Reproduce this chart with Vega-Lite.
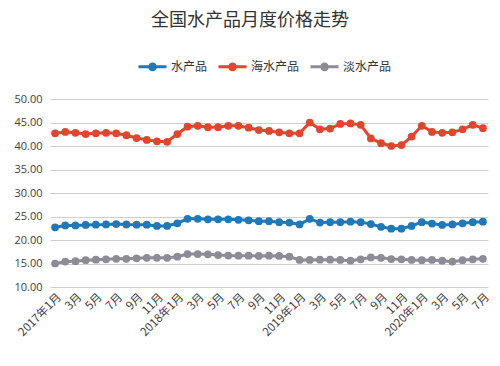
{
  "$schema": "https://vega.github.io/schema/vega-lite/v6.json",
  "width": 438,
  "height": 188,
  "autosize": {"type": "none"},
  "padding": {"left": 50, "top": 99, "right": 12, "bottom": 79},
  "background": "white",
  "title": {
    "text": "全国水产品月度价格走势",
    "font": "Noto Sans CJK SC",
    "fontSize": 18,
    "fontWeight": "normal",
    "color": "#333333",
    "anchor": "middle",
    "frame": "group",
    "dx": -19,
    "offset": 21
  },
  "config": {
    "view": {"stroke": null},
    "font": "Noto Sans CJK SC"
  },
  "data": {
    "values": [
      {"m":"2017-01","s":"水产品","p":22.7},{"m":"2017-02","s":"水产品","p":23.1},{"m":"2017-03","s":"水产品","p":23.1},{"m":"2017-04","s":"水产品","p":23.2},{"m":"2017-05","s":"水产品","p":23.25},{"m":"2017-06","s":"水产品","p":23.3},{"m":"2017-07","s":"水产品","p":23.4},{"m":"2017-08","s":"水产品","p":23.3},{"m":"2017-09","s":"水产品","p":23.25},{"m":"2017-10","s":"水产品","p":23.25},{"m":"2017-11","s":"水产品","p":23.0},{"m":"2017-12","s":"水产品","p":23.0},
      {"m":"2018-01","s":"水产品","p":23.55},{"m":"2018-02","s":"水产品","p":24.5},{"m":"2018-03","s":"水产品","p":24.5},{"m":"2018-04","s":"水产品","p":24.4},{"m":"2018-05","s":"水产品","p":24.4},{"m":"2018-06","s":"水产品","p":24.4},{"m":"2018-07","s":"水产品","p":24.3},{"m":"2018-08","s":"水产品","p":24.2},{"m":"2018-09","s":"水产品","p":24.0},{"m":"2018-10","s":"水产品","p":24.0},{"m":"2018-11","s":"水产品","p":23.8},{"m":"2018-12","s":"水产品","p":23.7},
      {"m":"2019-01","s":"水产品","p":23.3},{"m":"2019-02","s":"水产品","p":24.5},{"m":"2019-03","s":"水产品","p":23.7},{"m":"2019-04","s":"水产品","p":23.8},{"m":"2019-05","s":"水产品","p":23.8},{"m":"2019-06","s":"水产品","p":23.9},{"m":"2019-07","s":"水产品","p":23.8},{"m":"2019-08","s":"水产品","p":23.4},{"m":"2019-09","s":"水产品","p":22.8},{"m":"2019-10","s":"水产品","p":22.4},{"m":"2019-11","s":"水产品","p":22.4},{"m":"2019-12","s":"水产品","p":23.0},
      {"m":"2020-01","s":"水产品","p":23.8},{"m":"2020-02","s":"水产品","p":23.5},{"m":"2020-03","s":"水产品","p":23.2},{"m":"2020-04","s":"水产品","p":23.3},{"m":"2020-05","s":"水产品","p":23.55},{"m":"2020-06","s":"水产品","p":23.8},{"m":"2020-07","s":"水产品","p":23.9},
      {"m":"2017-01","s":"海水产品","p":42.7},{"m":"2017-02","s":"海水产品","p":43.0},{"m":"2017-03","s":"海水产品","p":42.8},{"m":"2017-04","s":"海水产品","p":42.55},{"m":"2017-05","s":"海水产品","p":42.7},{"m":"2017-06","s":"海水产品","p":42.8},{"m":"2017-07","s":"海水产品","p":42.7},{"m":"2017-08","s":"海水产品","p":42.3},{"m":"2017-09","s":"海水产品","p":41.7},{"m":"2017-10","s":"海水产品","p":41.3},{"m":"2017-11","s":"海水产品","p":41.0},{"m":"2017-12","s":"海水产品","p":40.9},
      {"m":"2018-01","s":"海水产品","p":42.55},{"m":"2018-02","s":"海水产品","p":44.1},{"m":"2018-03","s":"海水产品","p":44.3},{"m":"2018-04","s":"海水产品","p":44.0},{"m":"2018-05","s":"海水产品","p":44.0},{"m":"2018-06","s":"海水产品","p":44.3},{"m":"2018-07","s":"海水产品","p":44.3},{"m":"2018-08","s":"海水产品","p":43.9},{"m":"2018-09","s":"海水产品","p":43.4},{"m":"2018-10","s":"海水产品","p":43.2},{"m":"2018-11","s":"海水产品","p":42.9},{"m":"2018-12","s":"海水产品","p":42.7},
      {"m":"2019-01","s":"海水产品","p":42.7},{"m":"2019-02","s":"海水产品","p":45.0},{"m":"2019-03","s":"海水产品","p":43.55},{"m":"2019-04","s":"海水产品","p":43.7},{"m":"2019-05","s":"海水产品","p":44.7},{"m":"2019-06","s":"海水产品","p":44.8},{"m":"2019-07","s":"海水产品","p":44.5},{"m":"2019-08","s":"海水产品","p":41.6},{"m":"2019-09","s":"海水产品","p":40.6},{"m":"2019-10","s":"海水产品","p":40.0},{"m":"2019-11","s":"海水产品","p":40.2},{"m":"2019-12","s":"海水产品","p":42.0},
      {"m":"2020-01","s":"海水产品","p":44.3},{"m":"2020-02","s":"海水产品","p":43.0},{"m":"2020-03","s":"海水产品","p":42.8},{"m":"2020-04","s":"海水产品","p":42.9},{"m":"2020-05","s":"海水产品","p":43.55},{"m":"2020-06","s":"海水产品","p":44.5},{"m":"2020-07","s":"海水产品","p":43.8},
      {"m":"2017-01","s":"淡水产品","p":15.0},{"m":"2017-02","s":"淡水产品","p":15.4},{"m":"2017-03","s":"淡水产品","p":15.5},{"m":"2017-04","s":"淡水产品","p":15.7},{"m":"2017-05","s":"淡水产品","p":15.8},{"m":"2017-06","s":"淡水产品","p":15.9},{"m":"2017-07","s":"淡水产品","p":16.0},{"m":"2017-08","s":"淡水产品","p":16.0},{"m":"2017-09","s":"淡水产品","p":16.1},{"m":"2017-10","s":"淡水产品","p":16.2},{"m":"2017-11","s":"淡水产品","p":16.2},{"m":"2017-12","s":"淡水产品","p":16.2},
      {"m":"2018-01","s":"淡水产品","p":16.45},{"m":"2018-02","s":"淡水产品","p":17.0},{"m":"2018-03","s":"淡水产品","p":17.0},{"m":"2018-04","s":"淡水产品","p":16.95},{"m":"2018-05","s":"淡水产品","p":16.8},{"m":"2018-06","s":"淡水产品","p":16.7},{"m":"2018-07","s":"淡水产品","p":16.65},{"m":"2018-08","s":"淡水产品","p":16.65},{"m":"2018-09","s":"淡水产品","p":16.6},{"m":"2018-10","s":"淡水产品","p":16.65},{"m":"2018-11","s":"淡水产品","p":16.6},{"m":"2018-12","s":"淡水产品","p":16.45},
      {"m":"2019-01","s":"淡水产品","p":15.75},{"m":"2019-02","s":"淡水产品","p":15.75},{"m":"2019-03","s":"淡水产品","p":15.8},{"m":"2019-04","s":"淡水产品","p":15.8},{"m":"2019-05","s":"淡水产品","p":15.75},{"m":"2019-06","s":"淡水产品","p":15.6},{"m":"2019-07","s":"淡水产品","p":15.9},{"m":"2019-08","s":"淡水产品","p":16.3},{"m":"2019-09","s":"淡水产品","p":16.2},{"m":"2019-10","s":"淡水产品","p":15.95},{"m":"2019-11","s":"淡水产品","p":15.9},{"m":"2019-12","s":"淡水产品","p":15.75},
      {"m":"2020-01","s":"淡水产品","p":15.7},{"m":"2020-02","s":"淡水产品","p":15.75},{"m":"2020-03","s":"淡水产品","p":15.6},{"m":"2020-04","s":"淡水产品","p":15.4},{"m":"2020-05","s":"淡水产品","p":15.7},{"m":"2020-06","s":"淡水产品","p":15.9},{"m":"2020-07","s":"淡水产品","p":16.0}
    ]
  },
  "mark": {"type": "line", "strokeWidth": 3, "point": {"filled": true, "size": 60, "opacity": 1}},
  "encoding": {
    "x": {
      "field": "m",
      "type": "ordinal",
      "scale": {"type": "point", "padding": 0.5},
      "axis": {
        "title": null,
        "domain": false,
        "ticks": false,
        "grid": false,
        "labelAngle": -45,
        "labelFontSize": 11.5,
        "labelColor": "#404040",
        "labelPadding": 4,
        "labelOverlap": false,
        "labelFont": "Noto Sans CJK SC",
        "labelExpr": "(toNumber(slice(datum.value,5,7)) % 2 == 0) ? '' : (slice(datum.value,5,7) == '01' ? slice(datum.value,0,4) + '年1月' : toNumber(slice(datum.value,5,7)) + '月')"
      }
    },
    "y": {
      "field": "p",
      "type": "quantitative",
      "scale": {"domain": [10, 50], "nice": false, "zero": false},
      "axis": {
        "title": null,
        "values": [10, 15, 20, 25, 30, 35, 40, 45, 50],
        "format": ".2f",
        "domain": false,
        "ticks": false,
        "grid": true,
        "gridColor": "#cfcfcf",
        "gridWidth": 1,
        "labelFontSize": 11,
        "labelColor": "#404040",
        "labelPadding": 8,
        "labelFont": "Open Sans"
      }
    },
    "color": {
      "field": "s",
      "type": "nominal",
      "scale": {"domain": ["水产品", "海水产品", "淡水产品"], "range": ["#1f78b8", "#e0462d", "#8d8b95"]},
      "legend": {
        "title": null,
        "orient": "none",
        "direction": "horizontal",
        "legendX": 87,
        "legendY": -48,
        "symbolType": "M-1,0L1,0M-0.2,0A0.2,0.2,0,1,1,0.2,0A0.2,0.2,0,1,1,-0.2,0",
        "symbolSize": 784,
        "symbolStrokeWidth": 3,
        "labelFontSize": 12,
        "labelColor": "#333333",
        "labelFont": "Noto Sans CJK SC",
        "labelOffset": 3,
        "columnPadding": 4,
        "encode": {"symbols": {"update": {"fill": {"scale": "color", "field": "value"}}}}
      }
    }
  }
}
